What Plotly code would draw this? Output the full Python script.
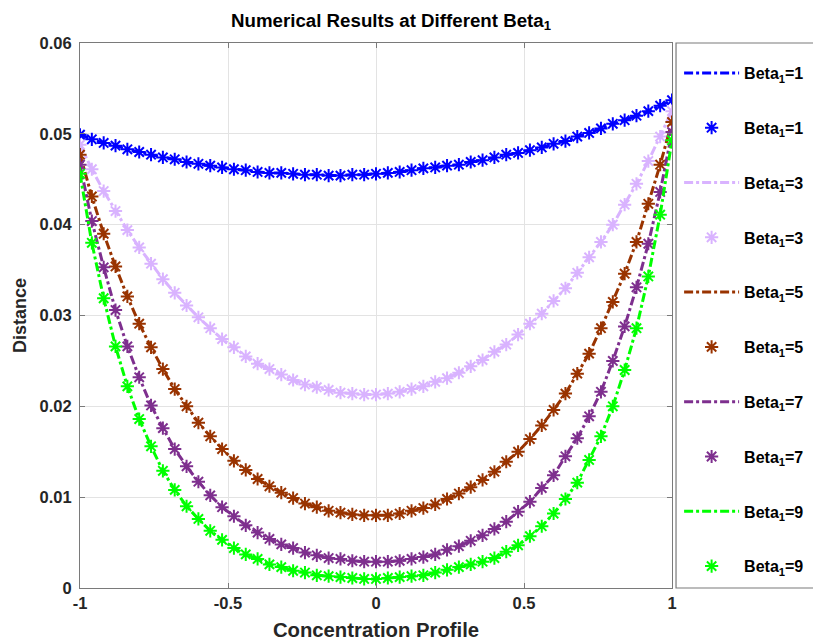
import numpy as np
import plotly.graph_objects as go

x = np.linspace(-1, 1, 51)

beta_labels = ["1", "3", "5", "7", "9"]
colors = ["#0000FF", "#D9B3FF", "#993300", "#7E2F8E", "#00FF00"]

beta1 = [0.0499, 0.0494, 0.0490, 0.0487, 0.0483, 0.0480, 0.0477, 0.0474, 0.0472, 0.0469,
         0.0467, 0.0465, 0.0463, 0.0461, 0.0460, 0.0458, 0.0457, 0.0457, 0.0456, 0.0455,
         0.0455, 0.0454, 0.0454, 0.0455, 0.0455, 0.0456, 0.0457, 0.0458, 0.0460, 0.0462,
         0.0463, 0.0465, 0.0466, 0.0469, 0.0471, 0.0474, 0.0477, 0.0479, 0.0482, 0.0485,
         0.0489, 0.0492, 0.0497, 0.0501, 0.0506, 0.0511, 0.0515, 0.0520, 0.0525, 0.0531,
         0.0537]
beta3 = [0.0488, 0.0461, 0.0437, 0.0415, 0.0394, 0.0375, 0.0357, 0.0340, 0.0325, 0.0311,
         0.0298, 0.0286, 0.0274, 0.0265, 0.0255, 0.0247, 0.0241, 0.0235, 0.0229, 0.0224,
         0.0221, 0.0218, 0.0215, 0.0214, 0.0213, 0.0213, 0.0214, 0.0216, 0.0219, 0.0222,
         0.0227, 0.0231, 0.0237, 0.0244, 0.0251, 0.0260, 0.0268, 0.0279, 0.0291, 0.0302,
         0.0316, 0.0330, 0.0347, 0.0364, 0.0381, 0.0400, 0.0422, 0.0445, 0.0470, 0.0497,
         0.0525]
beta5 = [0.0477, 0.0431, 0.0390, 0.0354, 0.0321, 0.0291, 0.0265, 0.0241, 0.0219, 0.0200,
         0.0182, 0.0167, 0.0153, 0.0140, 0.0130, 0.0120, 0.0112, 0.0105, 0.0099, 0.0093,
         0.0089, 0.0085, 0.0083, 0.0081, 0.0080, 0.0080, 0.0080, 0.0082, 0.0085, 0.0088,
         0.0092, 0.0098, 0.0104, 0.0111, 0.0119, 0.0128, 0.0139, 0.0150, 0.0164, 0.0179,
         0.0196, 0.0214, 0.0236, 0.0258, 0.0286, 0.0315, 0.0346, 0.0381, 0.0423, 0.0466,
         0.0513]
beta7 = [0.0466, 0.0404, 0.0353, 0.0306, 0.0266, 0.0232, 0.0201, 0.0176, 0.0153, 0.0134,
         0.0117, 0.0102, 0.0089, 0.0079, 0.0069, 0.0061, 0.0054, 0.0048, 0.0044, 0.0039,
         0.0036, 0.0033, 0.0032, 0.0030, 0.0029, 0.0029, 0.0029, 0.0030, 0.0032, 0.0034,
         0.0037, 0.0042, 0.0046, 0.0052, 0.0058, 0.0065, 0.0073, 0.0084, 0.0095, 0.0110,
         0.0124, 0.0145, 0.0165, 0.0189, 0.0216, 0.0250, 0.0288, 0.0331, 0.0379, 0.0436,
         0.0502]
beta9 = [0.0456, 0.0380, 0.0319, 0.0266, 0.0222, 0.0186, 0.0156, 0.0129, 0.0108, 0.0090,
         0.0076, 0.0063, 0.0053, 0.0044, 0.0037, 0.0032, 0.0026, 0.0023, 0.0019, 0.0017,
         0.0014, 0.0013, 0.0012, 0.0011, 0.0010, 0.0010, 0.0011, 0.0012, 0.0013, 0.0014,
         0.0017, 0.0020, 0.0023, 0.0026, 0.0029, 0.0033, 0.0040, 0.0047, 0.0057, 0.0068,
         0.0082, 0.0098, 0.0116, 0.0141, 0.0167, 0.0200, 0.0240, 0.0286, 0.0343, 0.0411,
         0.0493]

series = [beta1, beta3, beta5, beta7, beta9]

x_tickvals = [-1, -0.5, 0, 0.5, 1]
x_ticktext = ["-1", "-0.5", "0", "0.5", "1"]
y_tickvals = [0, 0.01, 0.02, 0.03, 0.04, 0.05, 0.06]
y_ticktext = ["0", "0.01", "0.02", "0.03", "0.04", "0.05", "0.06"]

FONT = "Liberation Sans, Arial, sans-serif"
TXT = "#262626"

fig = go.Figure()
for k, (lab, col, ys) in enumerate(zip(beta_labels, colors, series)):
    name = "Beta<sub>1</sub>=" + lab
    fig.add_trace(go.Scatter(
        x=x, y=ys, mode="lines", name=name,
        line=dict(color=col, width=3, dash="dashdot"),
        legendgroup="l%d" % k,
    ))
    fig.add_trace(go.Scatter(
        x=x, y=ys, mode="markers", name=name,
        marker=dict(symbol="asterisk-open", size=11, color=col,
                    line=dict(color=col, width=2)),
        legendgroup="m%d" % k,
    ))

fig.update_layout(
    width=813, height=643,
    margin=dict(l=80, r=141, t=43, b=55, autoexpand=False),
    paper_bgcolor="white", plot_bgcolor="white",
    font=dict(family=FONT, color=TXT),
    title=dict(text="Numerical Results at Different Beta<sub>1</sub>",
               x=(391 - 80) / 592, xanchor="center", y=1 - 20 / 643, yanchor="middle",
               xref="paper", yref="container",
               font=dict(size=18.7, weight="bold", color="black", family=FONT)),
    showlegend=True,
    legend=dict(x=1.012, xanchor="left", y=1 - 13 / 545, yanchor="top",
                bgcolor="rgba(0,0,0,0)", borderwidth=0,
                font=dict(size=16, weight="bold", color="black", family=FONT),
                tracegroupgap=31, itemwidth=55),
    shapes=[dict(type="rect", xref="paper", yref="paper",
                 x0=1.0068, x1=1.4, y0=0, y1=1,
                 line=dict(color="#7a7a7a", width=1.2), fillcolor="rgba(0,0,0,0)",
                 layer="below")],
)

fig.update_xaxes(
    range=[-1, 1], tickvals=x_tickvals, ticktext=x_ticktext,
    showgrid=True, gridcolor="#e3e3e3", gridwidth=1, zeroline=False,
    showline=True, linecolor="#7a7a7a", linewidth=1.2, mirror="ticks",
    ticks="inside", ticklen=5, tickcolor="#7a7a7a",
    tickfont=dict(size=16.5, weight="bold", color=TXT, family=FONT),
    title=dict(text="Concentration Profile", standoff=11,
               font=dict(size=20.3, weight="bold", color=TXT, family=FONT)),
)
fig.update_yaxes(
    range=[0, 0.06], tickvals=y_tickvals, ticktext=y_ticktext,
    showgrid=True, gridcolor="#e3e3e3", gridwidth=1, zeroline=False,
    showline=True, linecolor="#7a7a7a", linewidth=1.2, mirror="ticks",
    ticks="inside", ticklen=5, tickcolor="#7a7a7a", ticklabelstandoff=4,
    tickfont=dict(size=16.5, weight="bold", color=TXT, family=FONT),
    title=dict(text="Distance", standoff=8,
               font=dict(size=18, weight="bold", color=TXT, family=FONT)),
)

fig.write_html("out.html")
